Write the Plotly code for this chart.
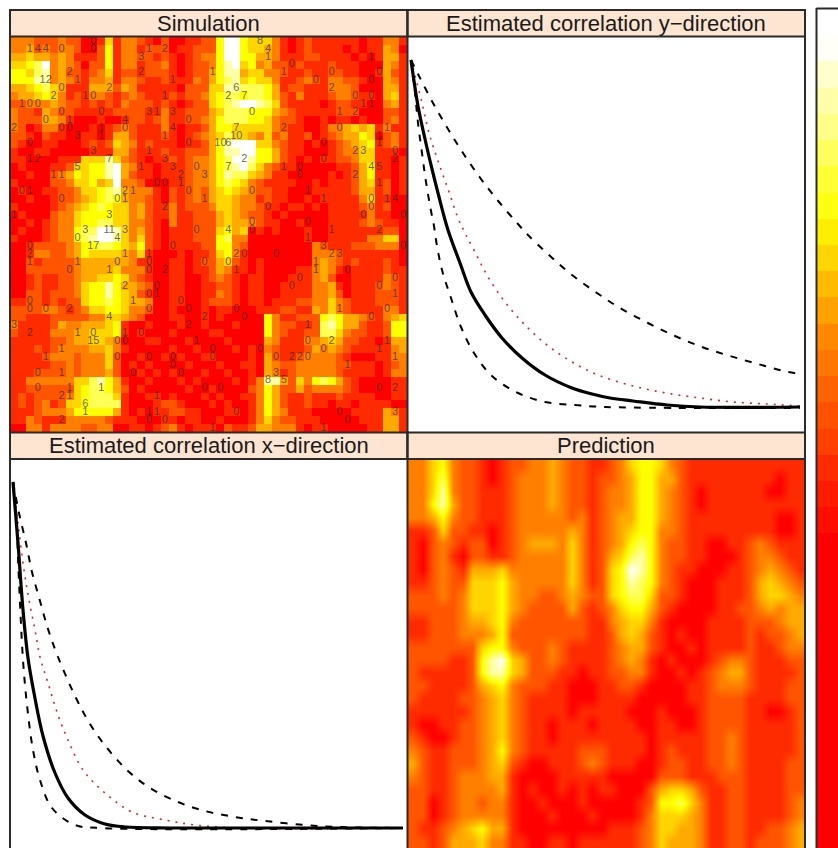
import plotly.graph_objects as go

W, H = 838, 848

# Colour level (0 red .. 3 orange .. 6 yellow .. 9 white) read for each cell of the simulation panel
sim_rows = [
"3332223220 0151332102 0011226996 5553101211 1111011331",
"3342323320 0261331222 0112226996 5543101211 1101011430",
"4454434311 1261332212 1012336996 6443111221 1110101441",
"5567934320 2261331223 1012236895 6342212111 2111000431",
"6657834221 2351221222 1012246884 5533211211 2211001421",
"6668834321 3341332112 1113246785 6553112321 3322100431",
"4456754111 4442431111 1022255887 7764122111 3332000441",
"3445653121 3321232111 2122356776 7764213111 2332110451",
"2233343221 2121322212 1012256789 9875211110 1221100341",
"3221432211 1112222113 1122245777 6664321111 1222000221",
"3222443100 0100122123 1122346777 6653221001 0110100231",
"3201331000 1012321113 1011246655 5553211001 3345451311",
"2210211001 1014421112 1012345755 4352311201 2344650231",
"2100110001 2125431211 1011246899 9553211010 1234561231",
"1001100000 1114421112 1122246889 9664211000 1233551110",
"1100001115 5585321011 2123346799 8664210101 1223551101",
"0100011255 6689431101 1123346789 7532110000 0112461101",
"0010023465 6689421101 1123346877 5431100000 1012461101",
"1000022355 6459332000 1123346765 3211110010 1112451201",
"0100112235 5678433310 2123245654 3221100011 1112441201",
"0010012234 5676433210 2123245543 3121100101 1111351100",
"1000012345 6765534211 3122235543 3211011010 1111231200",
"0100023356 6665534211 3112224543 2210100000 1111131100",
"0010123356 6775533210 3112224544 3211001000 1111232110",
"0100123367 7998534210 1112225645 0101000100 1111111220",
"1000123367 8998535210 1112226733 0000000100 1111133550",
"0012222346 6776546210 1111226632 0000000032 1112223330",
"0013322346 5555435100 0101125631 0000000033 3211111110",
"0021222234 4444431100 1101224521 0100000034 3212111210",
"0022222234 4445333100 1101124311 0100001134 3101111211",
"0012112234 4556532100 1100123210 1100011134 2001111321",
"0012112235 6686443200 1100112210 1100111133 4101112321",
"0022122235 6686542100 1100113210 1100111133 4201112221",
"1122121225 6676544300 1100122210 1101112233 5321112221",
"2222332123 5566533200 1000101100 0111221143 5321111331",
"2211122222 3355432000 1100101000 0063112226 7644321345",
"3111124334 4456100100 0100100010 0063221127 8644211266",
"2111133344 5556101000 1000011000 0063211227 7532211266",
"1111122344 5543000110 0010000100 0043111334 5422110144",
"1112123333 4453100000 1001000010 1032111243 4321111134",
"1111233323 3352001001 0100110000 1042112333 3210001133",
"1111122323 3352010100 0010001001 1043223333 3221110123",
"1112222323 3342001010 1000100100 1043123333 3211110133",
"1133333355 7864100100 0101000010 1388425367 6421000011",
"1122222256 7764201000 0010010000 2364224233 3321000011",
"1212222356 7775100110 1000101001 1364211211 1211110011",
"1212312556 7777100012 2100010100 1364211211 0110111100",
"1112333466 6664101011 2211000110 1364311100 0001111431",
"1132111333 3321110001 1011001000 1353221110 0000111441",
"0033133332 2330011012 3101110211 2443331011 0000011441",
]

# Colour level read for each cell of the prediction panel
pred_rows = [
"3356322101 2233432211 2356653211 1111111111",
"3357322101 2333432212 2346644211 1111111011",
"3358322111 2333432212 3346643210 1111110011",
"3368422111 2333432212 3346643210 1111111111",
"3346322111 2333332312 3446643211 1111111001",
"1125221101 2333334312 3456633211 1111111001",
"1023212201 2344435312 3467632211 0011232111",
"1023102211 2333335312 4578632211 0001233211",
"1023214445 3333335312 5698632110 0011234321",
"1123225556 4333335312 5687632100 0111245432",
"2223235556 4332234322 5677522100 0111245543",
"2222235556 4322224212 3566421000 0112234344",
"1122234456 3222222211 3455310000 1111222344",
"1122233346 2222222211 2454210100 1111212234",
"2222222566 3222321111 2344210010 1111211233",
"2222112689 5422321111 2343101000 1233211122",
"2111112688 5422211011 2233100101 2344211112",
"2211112456 3222110001 1221000011 2333211122",
"2111122345 3211110001 1110000011 2222111122",
"1111112345 3211110111 1100010001 2222110012",
"1001122345 3211011101 1110011001 2222111112",
"2100122345 3211011111 1111011111 2232111112",
"3211222346 3211111222 1111012111 2232111112",
"4211222345 2100111232 1110012211 2232111122",
"3211233344 1000011111 0000022211 1222111122",
"2211233334 1010010101 1000245542 1122111122",
"2201233233 1001000100 0001266753 1122111123",
"2201233333 1000100010 0001355543 1122111123",
"2112345644 1000000000 1112355443 1122112234",
"2212444533 1100110111 1112354443 1122122234",
]

colorbar_levels = [0, 0, 0, 0, 0, 0, 0, 0, 0, 0, 0, 0, 0.3, 0.6, 1, 1.5,
                   1.9, 2.3, 2.8, 3.2, 3.8, 4.4, 5, 5.6, 6.2, 6.6, 7.1, 7.6, 8.0, 8.4, 8.9, 9]

# Observation counts printed on the simulation, by grid cell
label_cols = [
 2,3,4,6,10,10,16,17,19,7,8,4,12,16,20,6,5,9,10,19,
 1,2,3,6,11,17,18,20,7,14,4,22,0,6,7,8,11,11,14,19,
 20,2,22,17,10,2,3,12,19,8,5,6,16,20,23,24,21,18,19,21,
 1,2,14,15,22,6,13,14,24,19,0,12,
 31,32,32,25,35,34,40,46,45,38,45,28,27,29,40,43,45,44,45,30,
 41,43,28,34,41,47,46,28,26,27,39,46,43,44,48,48,29,39,27,34,
 36,36,45,46,43,46,30,37,39,45,47,48,32,45,44,49,30,37,
 9,8,12,14,13,23,10,2,20,2,14,17,2,8,13,17,24,7,12,17,
 19,14,18,17,18,2,15,21,2,4,7,17,22,0,12,22,24,2,8,10,
 14,16,10,13,14,23,6,4,13,17,20,20,3,6,15,21,3,7,11,24,
 6,7,18,9,9,17,18,6,17,19,
 27,30,37,40,46,49,39,28,29,33,40,41,27,38,28,38,42,48,36,35,
 46,48,41,28,47,29,45,37,37,40,39,47,46,25,25,31,33,35,36,37,
 48,42,33,32,34,26,46,48,28,41,48,42,25,39,
]
label_rows = [
 1,1,1,1,0,1,2,1,1,4,5,5,6,4,5,6,7,7,7,7,
 8,8,8,9,9,9,9,9,10,10,10,10,11,11,11,12,11,12,11,12,
 11,13,13,14,14,15,15,15,15,16,17,17,16,16,16,17,17,18,18,18,
 19,19,19,19,19,20,20,20,20,21,22,22,
 0,1,2,4,3,4,4,4,2,5,5,6,7,7,6,7,7,8,8,9,
 9,9,11,11,11,11,12,12,13,13,13,13,14,14,14,15,15,15,16,16,
 16,17,16,16,17,18,19,19,20,20,20,20,21,21,22,22,23,23,
 24,25,24,24,25,24,26,26,26,27,27,27,28,28,28,28,28,29,29,29,
 29,31,31,32,32,33,33,33,34,34,34,34,34,36,35,36,35,37,37,37,
 37,37,38,38,38,38,39,40,40,40,40,41,42,42,42,42,44,44,44,44,
 45,45,45,46,47,47,47,48,48,48,
 24,24,25,24,24,26,26,27,27,27,27,27,28,28,29,29,29,30,30,31,
 31,32,34,34,34,35,35,36,38,38,39,38,39,39,40,39,40,40,40,40,
 40,41,42,43,43,44,44,44,47,47,47,48,49,49,
]
label_texts = [
 "1","4","4","0","0","0","3","1","2","2","1","12","2","2","1","0","2","1","0","1",
 "1","0","0","0","0","3","1","3","1","4","0","0","2","0","0","3","1","1","0","1",
 "4","0","0","1","3","1","2","7","3","5","1","1","1","3","0","3","2","0","0","1",
 "0","1","2","1","0","0","0","1","1","2","1","3",
 "8","4","1","1","0","1","0","0","1","0","0","6","2","7","2","0","0","1","1","0",
 "1","2","7","2","0","1","1","10","10","6","0","1","2","3","0","2","2","0","7","1",
 "0","0","4","5","2","1","0","1","1","0","1","4","0","0","0","0","0","0",
 "3","0","11","3","4","0","17","0","0","2","1","1","1","1","0","0","0","0","1","0",
 "2","2","0","0","1","0","1","0","0","0","2","0","0","3","4","2","2","2","1","0",
 "1","0","15","0","0","1","1","1","0","0","0","0","0","1","0","0","0","1","1","0",
 "2","1","1","6","1","1","1","2","0","0",
 "4","0","1","1","2","0","3","2","0","0","2","3","0","1","1","1","0","0","0","0",
 "0","1","1","0","0","0","0","1","0","2","0","1","1","0","0","0","0","2","2","0",
 "1","1","3","8","5","0","0","2","0","0","3","0","1","1",
]

# Correlation curves, in the panels' own (unlabelled) units
y_fit_d = [0, 7, 14, 21, 27, 37, 49, 60, 74, 91, 111, 134, 161, 181, 199, 222, 256, 289, 389]
y_fit_c = [347, 301, 268, 238, 214, 177, 144, 115, 92, 69, 49, 32, 19, 13, 9, 6, 2, 0, 0]
y_up_d = [0, 8, 22, 37, 52, 70, 88, 107, 117, 138, 161, 186, 209, 237, 264, 291, 319, 347, 377, 391]
y_up_c = [347, 331, 304, 278, 254, 228, 205, 183, 172, 152, 132, 114, 99, 84, 71, 60, 51, 43, 35, 33]
y_lo_d = [0, 4, 7, 11, 15, 20, 23, 25, 31, 40, 50, 63, 81, 107, 134, 164, 194, 389]
y_lo_c = [347, 314, 284, 254, 225, 196, 181, 167, 137, 109, 80, 54, 31, 14, 5, 2, 0, -1]
y_true_d = [0, 11, 18, 27, 37, 47, 54, 64, 77, 94, 114, 136, 161, 187, 222, 255, 289, 322, 356, 389]
y_true_c = [347, 304, 274, 246, 218, 189, 174, 155, 130, 105, 82, 62, 45, 32, 21, 14, 9, 5, 3, 1]

x_fit_d = [0, 5, 10, 15, 21, 30, 42, 55, 72, 92, 112, 159, 390]
x_fit_c = [346, 285, 218, 170, 135, 92, 55, 30, 13, 4, 1, 0, 0]
x_up_d = [0, 6, 13, 19, 27, 35, 45, 63, 77, 94, 115, 137, 165, 192, 222, 252, 292, 325, 390]
x_up_c = [346, 315, 285, 256, 227, 199, 171, 130, 104, 80, 57, 40, 26, 17, 11, 7, 3, 1, 0]
x_lo_d = [0, 2, 4, 5, 7, 10, 14, 20, 27, 39, 62, 89, 390]
x_lo_c = [346, 330, 301, 270, 225, 168, 123, 78, 48, 20, 3, 0, 0]
x_true_d = [0, 5, 11, 16, 22, 27, 35, 45, 55, 70, 92, 119, 152, 182, 225, 390]
x_true_c = [346, 305, 258, 228, 198, 171, 145, 113, 88, 58, 35, 16, 8, 3, 0, 0]

panel_titles = ["Simulation", "Estimated correlation y\u2212direction",
                "Estimated correlation x\u2212direction", "Prediction"]

FONT = "Liberation Sans, Arial, sans-serif"
HEAT = [[0, "#FF0000"], [1 / 3, "#FF8000"], [2 / 3, "#FFFF00"], [1, "#FFFFFF"]]
FRAME = "#2a2a2a"
STRIP = "#FDE5D2"


def px(v):
    return v / W


def py(v):
    return 1 - v / H


def digits(rows):
    return [[int(ch) for ch in r.replace(" ", "")] for r in rows]


def domain_x(a, b):
    return [px(a), px(b)]


def domain_y(top, bottom):
    return [py(bottom), py(top)]


fig = go.Figure()
hidden = dict(visible=False, showgrid=False, zeroline=False, fixedrange=True)
layout_axes = {
    "xaxis": dict(domain=domain_x(10, 407), range=[0, 50], anchor="y", **hidden),
    "yaxis": dict(domain=domain_y(37, 432), range=[50, 0], anchor="x", **hidden),
    "xaxis2": dict(domain=domain_x(408, 805), range=[-3, 394], anchor="y2", **hidden),
    "yaxis2": dict(domain=domain_y(37, 432), range=[-25, 370], anchor="x2", **hidden),
    "xaxis3": dict(domain=domain_x(10, 407), range=[-3, 394], anchor="y3", **hidden),
    "yaxis3": dict(domain=domain_y(459, 848), range=[-20, 369], anchor="x3", **hidden),
    "xaxis4": dict(domain=domain_x(408, 805), range=[0, 40], anchor="y4", **hidden),
    "yaxis4": dict(domain=domain_y(459, 848), range=[30, 0], anchor="x4", **hidden),
    "xaxis5": dict(domain=domain_x(817, 838), range=[0, 1], anchor="y5", **hidden),
    "yaxis5": dict(domain=domain_y(9, 848), range=[0, 32], anchor="x5", **hidden),
}

heat_style = dict(colorscale=HEAT, zmin=0, zmax=9, showscale=False, hoverinfo="skip")

fig.add_trace(go.Heatmap(z=digits(sim_rows), x0=0.5, dx=1, y0=0.5, dy=1,
                         xaxis="x", yaxis="y", **heat_style))
fig.add_trace(go.Scatter(x=[c + 0.5 for c in label_cols], y=[r + 0.5 for r in label_rows],
                         text=label_texts, mode="text", xaxis="x", yaxis="y", hoverinfo="skip",
                         textfont=dict(family=FONT, size=11, color="rgba(45,45,20,0.72)"),
                         showlegend=False))
fig.add_trace(go.Heatmap(z=digits(pred_rows), x0=0.5, dx=1, y0=0.5, dy=1, zsmooth="best",
                         xaxis="x4", yaxis="y4", **heat_style))
fig.add_trace(go.Heatmap(z=[[v] for v in colorbar_levels], x0=0.5, dx=1, y0=0.5, dy=1,
                         xaxis="x5", yaxis="y5", **heat_style))


def add_curves(ax, ay, fit, up, lo, true):
    dash = dict(color="black", width=2, dash="7px,8px")
    for (d, c), line in (
        (lo, dash),
        (up, dash),
        (true, dict(color="#E0202A", width=1.6, dash="2px,6px")),
        (fit, dict(color="black", width=3.2)),
    ):
        fig.add_trace(go.Scatter(x=d, y=c, mode="lines", line=dict(shape="spline", smoothing=1.0, **line),
                                 xaxis=ax, yaxis=ay, hoverinfo="skip", showlegend=False))


add_curves("x2", "y2", (y_fit_d, y_fit_c), (y_up_d, y_up_c), (y_lo_d, y_lo_c), (y_true_d, y_true_c))
add_curves("x3", "y3", (x_fit_d, x_fit_c), (x_up_d, x_up_c), (x_lo_d, x_lo_c), (x_true_d, x_true_c))


def strip(x0, x1, y0, y1, title):
    fig.add_shape(type="rect", xref="paper", yref="paper", x0=px(x0), x1=px(x1), y0=py(y1), y1=py(y0),
                  fillcolor=STRIP, line=dict(color=FRAME, width=2), layer="above")
    fig.add_annotation(text=title, xref="paper", yref="paper", x=px((x0 + x1) / 2), y=py((y0 + y1) / 2),
                       showarrow=False, xanchor="center", yanchor="middle",
                       font=dict(family=FONT, size=22, color="#1a1a1a"))


def vline(x, y0, y1):
    fig.add_shape(type="line", xref="paper", yref="paper", x0=px(x), x1=px(x), y0=py(y0), y1=py(y1),
                  line=dict(color=FRAME, width=2), layer="above")


def hline(x0, x1, y):
    fig.add_shape(type="line", xref="paper", yref="paper", x0=px(x0), x1=px(x1), y0=py(y), y1=py(y),
                  line=dict(color=FRAME, width=2), layer="above")


strip(10, 407.5, 10, 36.5, panel_titles[0])
strip(407.5, 805, 10, 36.5, panel_titles[1])
strip(10, 407.5, 432.5, 459, panel_titles[2])
strip(407.5, 805, 432.5, 459, panel_titles[3])
for x in (10, 407.5, 805):
    vline(x, 10, 848)
vline(816.5, 8, 848)
hline(816.5, 838, 8.5)

fig.update_layout(width=W, height=H, margin=dict(l=0, r=0, t=0, b=0), paper_bgcolor="white",
                  plot_bgcolor="white", showlegend=False, **layout_axes)

fig.write_html("out.html", config=dict(displayModeBar=False),
               post_script="document.body.style.margin='0';document.body.style.overflow='hidden';")
